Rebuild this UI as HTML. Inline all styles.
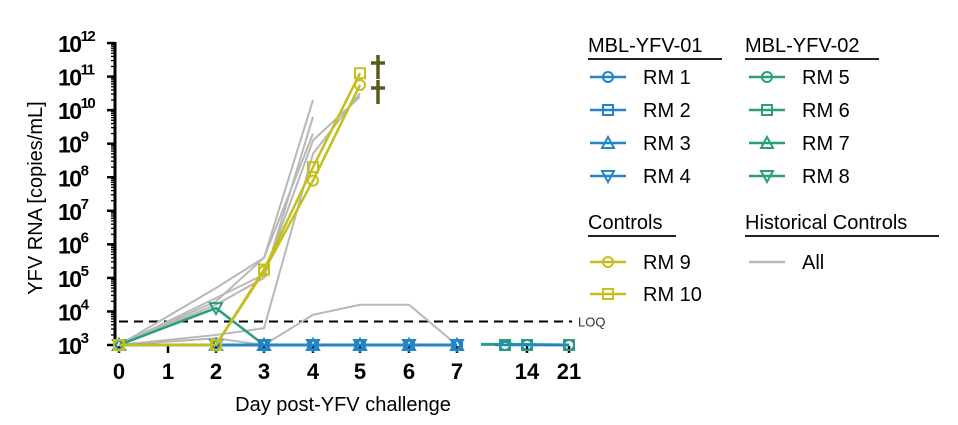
<!DOCTYPE html>
<html><head><meta charset="utf-8"><style>
html,body{margin:0;padding:0;background:#fff;}
svg{display:block;font-family:"Liberation Sans",Arial,sans-serif;}
</style></head><body>
<svg id="chart" width="958" height="425" viewBox="0 0 958 425"></svg>
<script>
const dayTicks=["0","1","2","3","4","5","6","7","14","21"];
const dayPos=[119,168,216,264,313,360,409,457,527,569];
const yTickExps=[3,4,5,6,7,8,9,10,11,12];
const loq=3.7;
const rm9Days=[0,2,3,4,5];
const rm9Vals=[3,3,5.2,7.9,10.75];
const rm10Days=[0,2,3,4,5];
const rm10Vals=[3,3,5.25,8.3,11.1];
const rm8Days=[0,2,3];
const rm8Vals=[3,4.1,3];
const vacDays=[0,2,3,4,5,6,7];
const vacVals=[3,3,3,3,3,3,3];
const histA=[3,4.3,5.6,10.3];
const histB=[3,4.2,5.0,9.8];
const histC=[3,4.4,5.1,9.1,10.4];
const histD=[3,4.7,5.6,9.3];
const histE=[3,3.3,3.5,8.7,10.5];
const histF=[3,3.2,3.0,3.9,4.2,4.2,3.0];
const histDays=[0,2,3,4,5,6,7];
const ns="http://www.w3.org/2000/svg";
const svg=document.getElementById('chart');
const Y0=345,DEC=33.55;
function y(v){return Y0-(v-3)*DEC;}
function x(d){return dayPos[dayTicks.indexOf(String(d))];}
function el(t,a,p){const e=document.createElementNS(ns,t);for(const k in a)e.setAttribute(k,a[k]);(p||svg).appendChild(e);return e;}
function txt(s,a,p){const e=el('text',a,p);e.textContent=s;return e;}
const BLUE="#2384c6",TEAL="#2a9d80",YEL="#c4bf1c",GRAY="#b8b8b8";
const ax=el('g',{});


el('line',{x1:115,y1:42,x2:115,y2:346,stroke:'#000','stroke-width':3},ax);
yTickExps.forEach(e=>{
  el('line',{x1:107,y1:y(e),x2:115,y2:y(e),stroke:'#000','stroke-width':2.5},ax);
  const t=txt('10',{x:58,y:y(e)+9,'font-size':23,'font-weight':'bold','letter-spacing':'-1.5'},ax);
  const s=el('tspan',{dy:-11,'font-size':15},t);s.textContent=e;
  if(e<12){for(let m=2;m<10;m++){el('line',{x1:111,y1:y(e+Math.log10(m)),x2:115,y2:y(e+Math.log10(m)),stroke:'#000','stroke-width':1.3},ax);}}
});
const yt=txt('YFV RNA [copies/mL]',{x:0,y:0,'font-size':20,transform:'translate(42,198) rotate(-90)','text-anchor':'middle'});


const xa=el('g',{});


dayTicks.forEach((d,i)=>{
  el('line',{x1:dayPos[i],y1:346,x2:dayPos[i],y2:353,stroke:'#000','stroke-width':2.5},xa);
  txt(d,{x:dayPos[i],y:379,'font-size':22,'font-weight':'bold','text-anchor':'middle'},xa);
});
const xt=txt('Day post-YFV challenge',{x:343,y:411,'font-size':20,'text-anchor':'middle'});


const lq=el('line',{x1:119,y1:y(loq),x2:572,y2:y(loq),stroke:'#000','stroke-width':2,'stroke-dasharray':'9,6'});


const lqt=txt('LOQ',{x:578,y:y(loq)+5,'font-size':13,fill:'#333'});


[histA,histB,histC,histD,histE,histF].forEach((arr,k)=>{
  const pts=arr.map((v,i)=>x(histDays[i])+','+y(v)).join(' ');
  const p=el('polyline',{points:pts,fill:'none',stroke:GRAY,'stroke-width':2});
  
  
});
function marker(shape,cx,cy,c,g){
  if(shape==='o')el('circle',{cx,cy,r:5,fill:'none',stroke:c,'stroke-width':2},g);
  else if(shape==='s')el('rect',{x:cx-5,y:cy-5,width:10,height:10,fill:'none',stroke:c,'stroke-width':2},g);
  else if(shape==='^')el('polygon',{points:`${cx},${cy-6} ${cx-6},${cy+5} ${cx+6},${cy+5}`,fill:'none',stroke:c,'stroke-width':2},g);
  else el('polygon',{points:`${cx},${cy+6} ${cx-6},${cy-5} ${cx+6},${cy-5}`,fill:'none',stroke:c,'stroke-width':2},g);
}
function series(name,days,vals,c,shape){
  const g=el('g',{});
  
  
  el('polyline',{points:days.map((d,i)=>x(d)+','+y(vals[i])).join(' '),fill:'none',stroke:c,'stroke-width':2.5},g);
  days.forEach((d,i)=>marker(shape,x(d),y(vals[i]),c,g));
}
series('rm8-line',rm8Days,rm8Vals,TEAL,'v');
['o','s','^'].forEach((s,i)=>series('rm'+(5+i)+'-line',vacDays,vacVals,TEAL,s));
['o','s','^','v'].forEach((s,i)=>series('rm'+(1+i)+'-line',vacDays,vacVals,BLUE,s));
const lg=el('g',{});


el('polyline',{points:`481,${y(3.02)} 500,${y(3.02)} 505,${y(3.12)} 512,${y(3.02)} 569,${y(3)}`,fill:'none',stroke:TEAL,'stroke-width':3},lg);
el('polyline',{points:`495,${y(3)} 569,${y(3)}`,fill:'none',stroke:BLUE,'stroke-width':2.5},lg);
[505,527,569].forEach(px=>{marker('o',px,y(3),BLUE,lg);marker('s',px,y(3),TEAL,lg);});
series('rm9-line',rm9Days,rm9Vals,YEL,'o');
series('rm10-line',rm10Days,rm10Vals,YEL,'s');
[[378,66],[378,91]].forEach(([dx,dy])=>{
  const g=el('g',{});
  
  
  el('line',{x1:dx,y1:dy-11,x2:dx,y2:dy+13,stroke:'#5a5a20','stroke-width':3.5},g);
  el('line',{x1:dx-7,y1:dy-3,x2:dx+7,y2:dy-3,stroke:'#5a5a20','stroke-width':3.5},g);
});
function legHead(s,lx,ly,w){
  const g=el('g',{});
  
  
  txt(s,{x:lx,y:ly,'font-size':20},g);
  el('line',{x1:lx,y1:ly+7,x2:lx+w,y2:ly+7,stroke:'#222','stroke-width':2},g);
}
function legEntry(s,lx,ly,c,shape){
  const g=el('g',{});
  
  
  el('line',{x1:lx,y1:ly,x2:lx+36,y2:ly,stroke:c,'stroke-width':2.5},g);
  if(shape)marker(shape,lx+18,ly,c,g);
  txt(s,{x:lx+53,y:ly+7,'font-size':20},g);
}
legHead('MBL-YFV-01',588,52,134);
legHead('MBL-YFV-02',745,52,134);
legHead('Controls',588,229,88);
legHead('Historical Controls',745,229,194);
['o','s','^','v'].forEach((s,i)=>{legEntry('RM '+(1+i),590,77+i*33,BLUE,s);legEntry('RM '+(5+i),749,77+i*33,TEAL,s);});
legEntry('RM 9',590,262,YEL,'o');
legEntry('RM 10',590,294,YEL,'s');
legEntry('All',749,262,GRAY,null);
</script>
</body></html>
